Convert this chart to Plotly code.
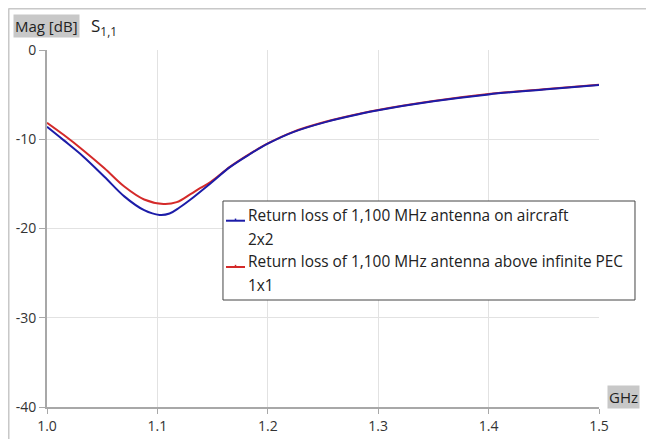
import plotly.graph_objects as go

# ---- data ----
freq_aircraft = [1.0, 1.015, 1.033, 1.052, 1.07, 1.088, 1.102, 1.111, 1.12, 1.13, 1.148, 1.166,
                 1.184, 1.2, 1.223, 1.253, 1.284, 1.3, 1.35, 1.4, 1.45, 1.5]
mag_aircraft = [-8.6, -10.1, -11.95, -14.2, -16.4, -17.95, -18.48, -18.32, -17.65, -16.75, -14.95, -13.1,
                -11.65, -10.5, -9.2, -8.05, -7.15, -6.75, -5.75, -4.98, -4.42, -3.92]

freq_pec = [1.0, 1.015, 1.033, 1.052, 1.07, 1.088, 1.1055, 1.1175, 1.13, 1.139, 1.148, 1.166,
            1.184, 1.2, 1.223, 1.253, 1.284, 1.3, 1.35, 1.4, 1.45, 1.5]
mag_pec = [-8.15, -9.5, -11.25, -13.25, -15.3, -16.75, -17.25, -17.05, -16.15, -15.45, -14.8, -13.07,
           -11.62, -10.47, -9.17, -8.02, -7.12, -6.72, -5.72, -4.94, -4.39, -3.9]

legend_aircraft = ["Return loss of 1,100 MHz antenna on aircraft", "2x2"]
legend_pec = ["Return loss of 1,100 MHz antenna above infinite PEC", "1x1"]

x_ticks = [1.0, 1.1, 1.2, 1.3, 1.4, 1.5]
x_tick_labels = ["1.0", "1.1", "1.2", "1.3", "1.4", "1.5"]
y_ticks = [0, -10, -20, -30, -40]
y_tick_labels = ["0", "-10", "-20", "-30", "-40"]

FONT = "Open Sans"
BLUE = "#1c1ca8"
RED = "#d42a2a"

fig = go.Figure()
fig.add_trace(go.Scatter(x=freq_pec, y=mag_pec, mode="lines", name=legend_pec[0],
                         line=dict(color=RED, width=2, shape="spline", smoothing=1.0)))
fig.add_trace(go.Scatter(x=freq_aircraft, y=mag_aircraft, mode="lines", name=legend_aircraft[0],
                         line=dict(color=BLUE, width=2, shape="spline", smoothing=1.0)))

fig.update_layout(
    width=646, height=431,
    margin=dict(l=39, r=55, t=42, b=32),
    paper_bgcolor="white", plot_bgcolor="white",
    font=dict(family=FONT, size=14, color="#333333"),
    showlegend=False,
    xaxis=dict(range=[1.0, 1.5], tickvals=x_ticks, ticktext=x_tick_labels,
               showgrid=True, gridcolor="#e2e2e2", gridwidth=1,
               showline=True, linecolor="#a8a8a8", linewidth=2,
               ticks="outside", ticklen=5, tickcolor="#a8a8a8", zeroline=False,
               tickfont=dict(size=14), automargin=False),
    yaxis=dict(range=[-40, 0], tickvals=y_ticks, ticktext=y_tick_labels,
               showgrid=True, gridcolor="#e2e2e2", gridwidth=1,
               showline=True, linecolor="#a8a8a8", linewidth=2,
               ticks="outside", ticklen=6, tickcolor="#a8a8a8", zeroline=False,
               tickfont=dict(size=14), automargin=False),
)

# frame lines of the chart window
fig.add_shape(type="line", xref="paper", yref="paper", x0=-0.0697, x1=1.2, y0=1.1162, y1=1.1162,
              line=dict(color="#c8c8c8", width=2))
fig.add_shape(type="line", xref="paper", yref="paper", x0=-0.0697, x1=-0.0697, y0=-0.2, y1=1.1162,
              line=dict(color="#c8c8c8", width=2))

# header labels
fig.add_annotation(text="Mag [dB]", xref="paper", yref="paper", x=-0.0009, y=1.0686,
                   xanchor="center", yanchor="middle", showarrow=False,
                   bgcolor="#c8c8c8", font=dict(size=15, color="#222222"), borderpad=1)
fig.add_annotation(text="S<sub>1,1</sub>", xref="paper", yref="paper", x=0.076, y=1.067,
                   xanchor="left", yanchor="middle", showarrow=False,
                   font=dict(size=17, color="#222222"))
fig.add_annotation(text="GHz", xref="paper", yref="paper", x=1.0444, y=0.028,
                   xanchor="center", yanchor="middle", showarrow=False,
                   bgcolor="#c8c8c8", font=dict(size=15, color="#222222"), borderpad=1)

# legend box
fig.add_shape(type="rect", xref="paper", yref="paper", x0=0.3188, x1=1.0652, y0=0.2997, y1=0.577,
              line=dict(color="#444444", width=1), fillcolor="white", layer="above")
legend_rows = [(legend_aircraft, BLUE, 0.5378, 0.4678, 0.5218),
               (legend_pec, RED, 0.4062, 0.3417, 0.3922)]
for texts, color, y1, y2, ys in legend_rows:
    fig.add_shape(type="line", xref="paper", yref="paper", x0=0.3243, x1=0.3587, y0=ys, y1=ys,
                  line=dict(color=color, width=2), layer="above")
    fig.add_shape(type="line", xref="paper", yref="paper", x0=0.3415, x1=0.3415, y0=ys, y1=ys + 0.006,
                  line=dict(color=color, width=1.5), layer="above")
    fig.add_annotation(text=texts[0], xref="paper", yref="paper", x=0.3605, y=y1,
                       xanchor="left", yanchor="middle", showarrow=False,
                       font=dict(size=15.4, color="#222222"))
    fig.add_annotation(text=texts[1], xref="paper", yref="paper", x=0.3605, y=y2,
                       xanchor="left", yanchor="middle", showarrow=False,
                       font=dict(size=15.4, color="#222222"))

fig.write_html("out.html")
